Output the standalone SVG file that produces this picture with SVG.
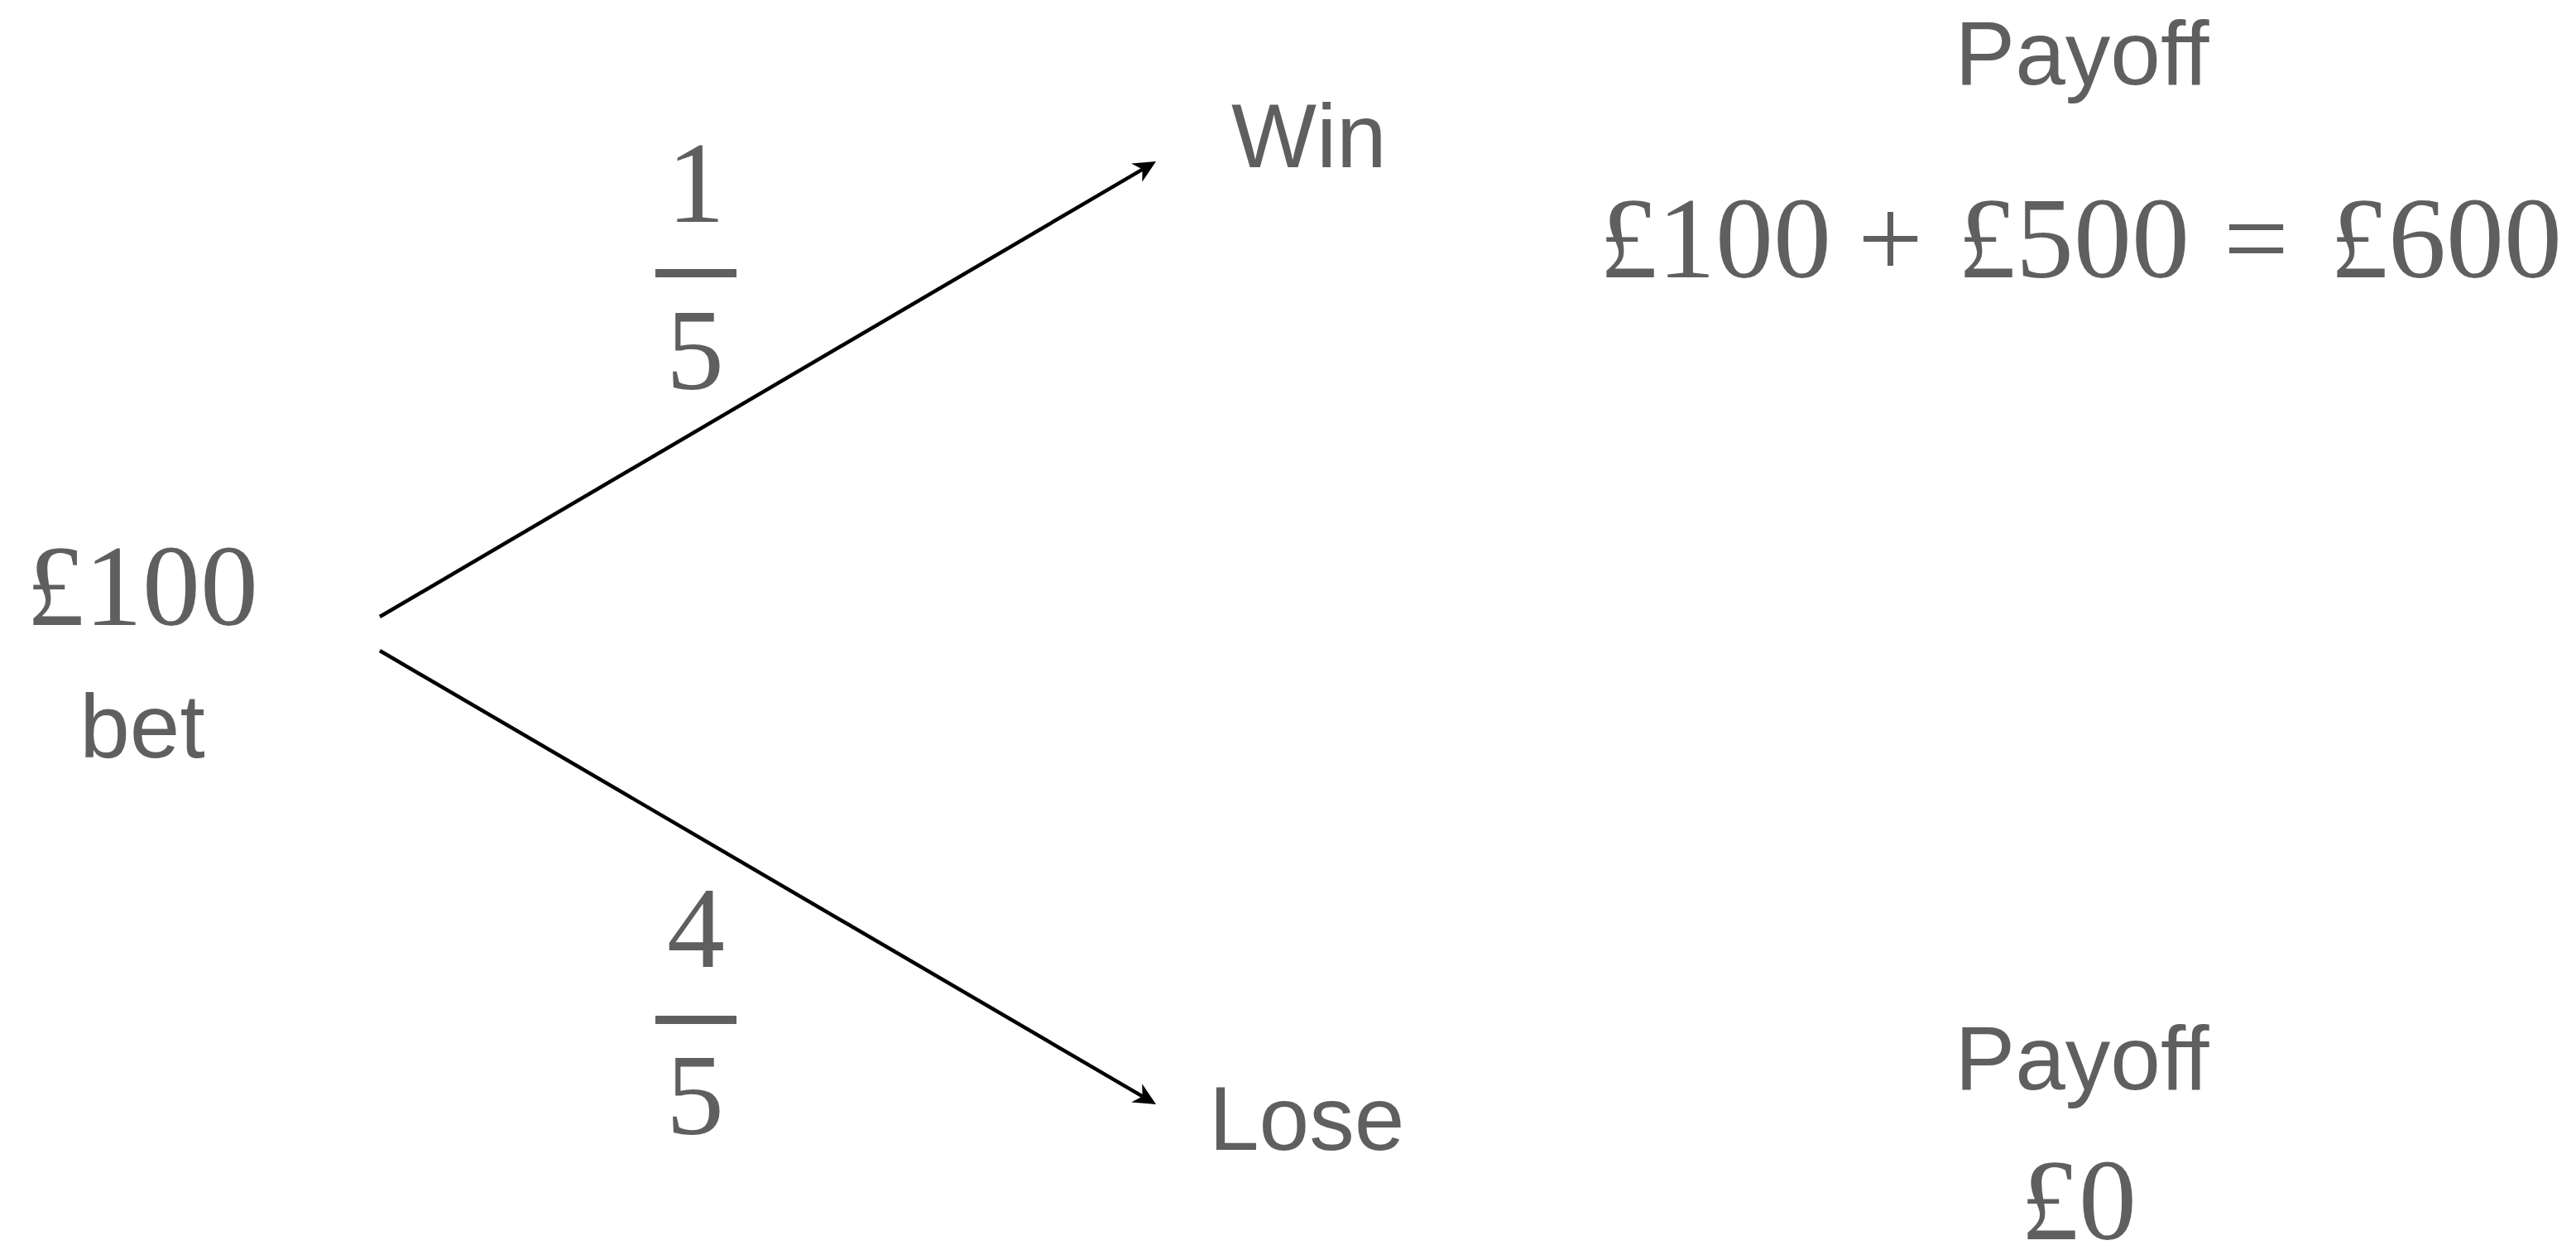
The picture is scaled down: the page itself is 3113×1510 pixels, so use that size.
<svg xmlns="http://www.w3.org/2000/svg" width="3113" height="1510" viewBox="0 0 3113 1510">
<style>
.serif{font-family:"Liberation Serif","Times New Roman",serif;font-size:140px;fill:#5f5f5f}
.sans{font-family:"Liberation Sans",Arial,sans-serif;font-size:109px;fill:#5f5f5f}
.mid{text-anchor:middle}
.edge{stroke:#000;stroke-width:4.5;fill:none;marker-end:url(#ah)}
</style>
<defs>
<marker id="ah" markerUnits="userSpaceOnUse" viewBox="-10 -15 32 30" markerWidth="32" markerHeight="30" refX="0" refY="0" orient="auto" overflow="visible">
<path d="M19,0 L-8,-13 L0,0 L-8,13 Z" fill="#000"/>
</marker>
</defs>
<rect width="3113" height="1510" fill="#fff"/>
<g id="connectors">
<line class="edge" x1="459" y1="745" x2="1380.6" y2="204.6"/>
<line class="edge" x1="459" y1="786" x2="1380.6" y2="1324.4"/>
</g>
<g id="start">
<text class="serif mid" x="172" y="755">£100</text>
<text class="sans mid" x="172" y="915">bet</text>
</g>
<g id="prob-win">
<text class="serif mid" x="841" y="268">1</text>
<rect x="792" y="325" width="98" height="10" fill="#5f5f5f"/>
<text class="serif mid" x="840" y="470">5</text>
</g>
<g id="prob-lose">
<text class="serif mid" x="841" y="1168">4</text>
<rect x="792" y="1227" width="98" height="10" fill="#5f5f5f"/>
<text class="serif mid" x="840" y="1370">5</text>
</g>
<g id="win">
<text class="sans" x="1488" y="202">Win</text>
</g>
<g id="lose">
<text class="sans" x="1461" y="1389">Lose</text>
</g>
<g id="payoff-win">
<text class="sans mid" x="2516" y="102">Payoff</text>
<text class="serif" y="335"><tspan x="1933">£100 </tspan><tspan x="2245">+ </tspan><tspan x="2366">£500 </tspan><tspan x="2687">= </tspan><tspan x="2816">£600</tspan></text>
</g>
<g id="payoff-lose">
<text class="sans mid" x="2516" y="1316">Payoff</text>
<text class="serif mid" x="2512" y="1497">£0</text>
</g>
</svg>
